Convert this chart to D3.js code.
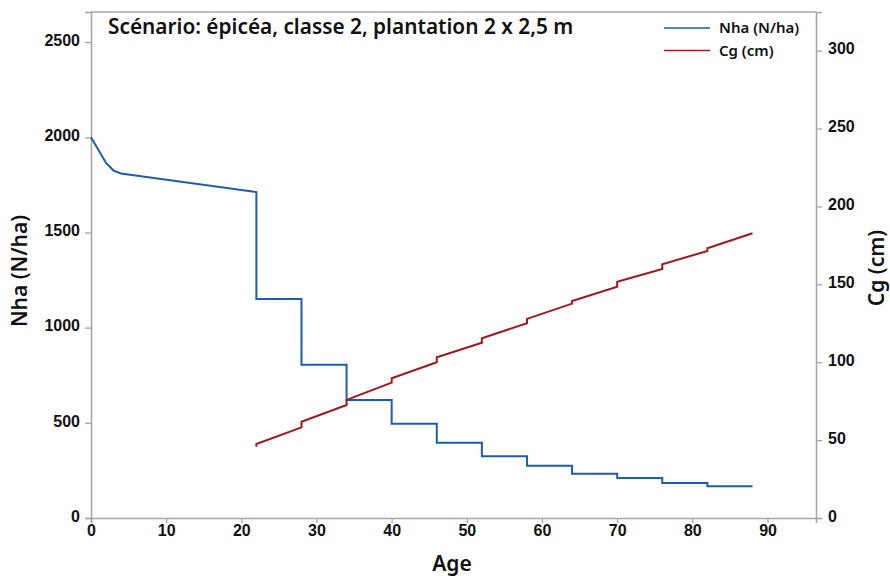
<!DOCTYPE html>
<html>
<head>
<meta charset="utf-8">
<script src="https://cdn.jsdelivr.net/npm/d3@7/dist/d3.min.js"></script>
<style>
  html, body { margin: 0; padding: 0; background: #fff; }
  svg { display: block; font-family: "Noto Sans", "Open Sans", sans-serif; }
  .tick text { font-size: 16px; font-weight: 600; fill: #111; }
</style>
</head>
<body>
<svg id="chart" width="890" height="576"></svg>
<script>
// Stand density (stems per hectare) by age; repeated ages mark thinnings
const nhaAge = [0, 2, 3, 4, 22, 22, 28, 28, 34, 34, 40, 40, 46, 46, 52, 52, 58, 58, 64, 64, 70, 70, 76, 76, 82, 82, 88];
const nhaVal = [2000, 1865, 1825, 1810, 1712, 1150, 1150, 805, 805, 620, 620, 495, 495, 395, 395, 325, 325, 275, 275, 233, 233, 210, 210, 184, 184, 167, 167];

// Girth of the mean-basal-area tree (cm) by age
const cgAge = [22, 22, 28, 28, 34, 34, 40, 40, 46, 46, 52, 52, 58, 58, 64, 64, 70, 70, 76, 76, 82, 82, 88];
const cgVal = [45.8, 47.5, 58.2, 61.8, 72.5, 75.8, 86.9, 89.7, 100.0, 103.2, 112.5, 115.4, 125.0, 127.8, 137.6, 139.3, 148.5, 151.7, 159.9, 162.9, 171.4, 173.1, 182.8];

const xTicks = [0, 10, 20, 30, 40, 50, 60, 70, 80, 90];
const nhaTicks = [0, 500, 1000, 1500, 2000, 2500];
const cgTicks = [0, 50, 100, 150, 200, 250, 300];

const seriesNames = ["Nha (N/ha)", "Cg (cm)"];
const seriesColors = ["#1c5eac", "#a3181f"];
const titleText = "Scénario: épicéa, classe 2, plantation 2 x 2,5 m";

const svg = d3.select("#chart");
const plotL = 91, plotR = 816, plotT = 12, plotB = 518;
const axisColor = "#a6a6a6";
const fmt = d3.format("d");

const x = d3.scaleLinear().domain([0, 96.45]).range([plotL, plotR]);
const yL = d3.scaleLinear().domain([0, 2658]).range([plotB, plotT]);
const yR = d3.scaleLinear().domain([0, 324.8]).range([plotB, plotT]);

// frame (top edge)
svg.append("line")
  .attr("x1", plotL).attr("x2", plotR).attr("y1", plotT).attr("y2", plotT)
  .attr("stroke", axisColor).attr("stroke-width", 1.3);

function styleAxis(g) {
  g.select(".domain").attr("stroke", axisColor).attr("stroke-width", 1.6);
  g.selectAll(".tick line").attr("stroke", axisColor).attr("stroke-width", 1.3);
}

svg.append("g")
  .attr("transform", `translate(0,${plotB})`)
  .call(d3.axisBottom(x).tickValues(xTicks).tickFormat(fmt).tickSizeOuter(0).tickSize(5).tickPadding(2))
  .call(styleAxis);

svg.append("g")
  .attr("transform", `translate(${plotL},0)`)
  .call(d3.axisLeft(yL).tickValues(nhaTicks).tickFormat(fmt).tickSizeOuter(0).tickSize(6).tickPadding(5))
  .call(styleAxis)
  .selectAll(".tick text").attr("dy", "0.2em");

svg.append("g")
  .attr("transform", `translate(${plotR},0)`)
  .call(d3.axisRight(yR).tickValues(cgTicks).tickFormat(fmt).tickSizeOuter(0).tickSize(6).tickPadding(6))
  .call(styleAxis)
  .selectAll(".tick text").attr("dy", "0.2em");

// axis titles
svg.append("text")
  .attr("x", 452).attr("y", 571)
  .attr("text-anchor", "middle")
  .attr("font-size", 21).attr("font-weight", 600).attr("fill", "#111")
  .text("Age");

svg.append("text")
  .attr("transform", "translate(27,271) rotate(-90)")
  .attr("text-anchor", "middle")
  .attr("font-size", 21).attr("font-weight", 600).attr("fill", "#111")
  .text("Nha (N/ha)");

svg.append("text")
  .attr("transform", "translate(884,268) rotate(-90)")
  .attr("text-anchor", "middle")
  .attr("font-size", 21).attr("font-weight", 600).attr("fill", "#111")
  .text("Cg (cm)");

// series lines
const nhaPts = nhaAge.map((a, i) => [a, nhaVal[i]]);
const cgPts = cgAge.map((a, i) => [a, cgVal[i]]);

svg.append("path")
  .attr("d", d3.line().x(d => x(d[0])).y(d => yL(d[1]))(nhaPts))
  .attr("fill", "none").attr("stroke", seriesColors[0]).attr("stroke-width", 2);

svg.append("path")
  .attr("d", d3.line().x(d => x(d[0])).y(d => yR(d[1]))(cgPts))
  .attr("fill", "none").attr("stroke", seriesColors[1]).attr("stroke-width", 2);

// title
svg.append("text")
  .attr("x", 108).attr("y", 34)
  .attr("font-size", 20.8).attr("font-weight", 600).attr("fill", "#111")
  .text(titleText);

// legend
const legend = svg.append("g");
seriesNames.forEach((name, i) => {
  const yy = 28 + i * 22.5;
  legend.append("line")
    .attr("x1", 664).attr("x2", 710).attr("y1", yy).attr("y2", yy)
    .attr("stroke", seriesColors[i]).attr("stroke-width", 1.6);
  legend.append("text")
    .attr("x", 719).attr("y", yy + 5)
    .attr("font-size", 15).attr("font-weight", 600).attr("fill", "#111")
    .text(name);
});
</script>
</body>
</html>
